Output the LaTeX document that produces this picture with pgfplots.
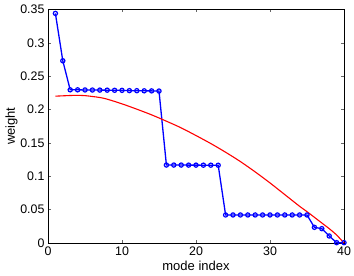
\documentclass[border=0pt]{standalone}
\usepackage{fontspec}
\setmainfont{Liberation Sans}
\usepackage{pgfplots}
\pgfplotsset{compat=1.18}
\begin{document}
\begin{tikzpicture}
\begin{axis}[
  scale only axis,
  width=296pt, height=233.6pt,
  xmin=0, xmax=40, ymin=0, ymax=0.35,
  xtick={0,10,20,30,40},
  ytick={0,0.05,0.1,0.15,0.2,0.25,0.3,0.35},
  scaled y ticks=false,
  /pgf/number format/assume math mode=true,
  /pgf/number format/fixed,
  /pgf/number format/precision=2,
  tick align=inside,
  major tick length=3pt,
  tick style={black!60, line width=0.4pt},
  axis line style={black, line width=0.5pt},
  ticklabel style={font=\fontsize{12.4}{14}\selectfont},
  label style={font=\fontsize{13}{15}\selectfont},
  xlabel={mode index},
  ylabel={weight},
  xlabel style={at={(axis description cs:0.5,-0.1156)}, anchor=base},
  ylabel style={at={(axis description cs:-0.1115,0.5)}, anchor=base},
  clip=false,
]
\addplot[color={rgb,255:red,0;green,0;blue,255}, line width=1.3pt, mark=o, mark size=2.1pt, mark options={line width=1.2pt, fill=blue!25}]
coordinates {
(1,0.344)(2,0.273)(3,0.2295)(4,0.2295)(5,0.2293)(6,0.2292)(7,0.2291)(8,0.2290)
(9,0.2288)(10,0.2287)(11,0.2283)(12,0.2282)(13,0.2280)(14,0.2279)(15,0.2277)
(16,0.1168)(17,0.1168)(18,0.1168)(19,0.1167)(20,0.1167)(21,0.1166)(22,0.1166)(23,0.1165)
(24,0.0420)(25,0.0420)(26,0.0420)(27,0.0420)(28,0.0420)(29,0.0420)(30,0.0420)
(31,0.0420)(32,0.0420)(33,0.0420)(34,0.0420)(35,0.0420)
(36,0.0235)(37,0.0215)(38,0.0105)(39,0.0005)(40,0.0005)
};
\addplot[color={rgb,255:red,255;green,0;blue,0}, line width=1.1pt, smooth]
coordinates {
(1,0.2200)(2,0.2205)(3,0.2210)(4,0.2212)(5,0.2208)(6,0.2195)(7,0.2180)(8,0.2155)
(10,0.2085)(12,0.2005)(14,0.1920)(16,0.1825)(18,0.1725)(20,0.1610)(22,0.1490)
(24,0.1360)(26,0.1220)(28,0.1065)(30,0.0900)(32,0.0725)(34,0.0550)(35,0.0470)
(36,0.0385)(37,0.0300)(38,0.0215)(39,0.0120)(40,0.0000)
};
\end{axis}
\pgfresetboundingbox
\path[use as bounding box] ([shift={(-48pt,-32pt)}]current axis.south west) rectangle ([shift={(10pt,9.4pt)}]current axis.north east);
\end{tikzpicture}
\end{document}
